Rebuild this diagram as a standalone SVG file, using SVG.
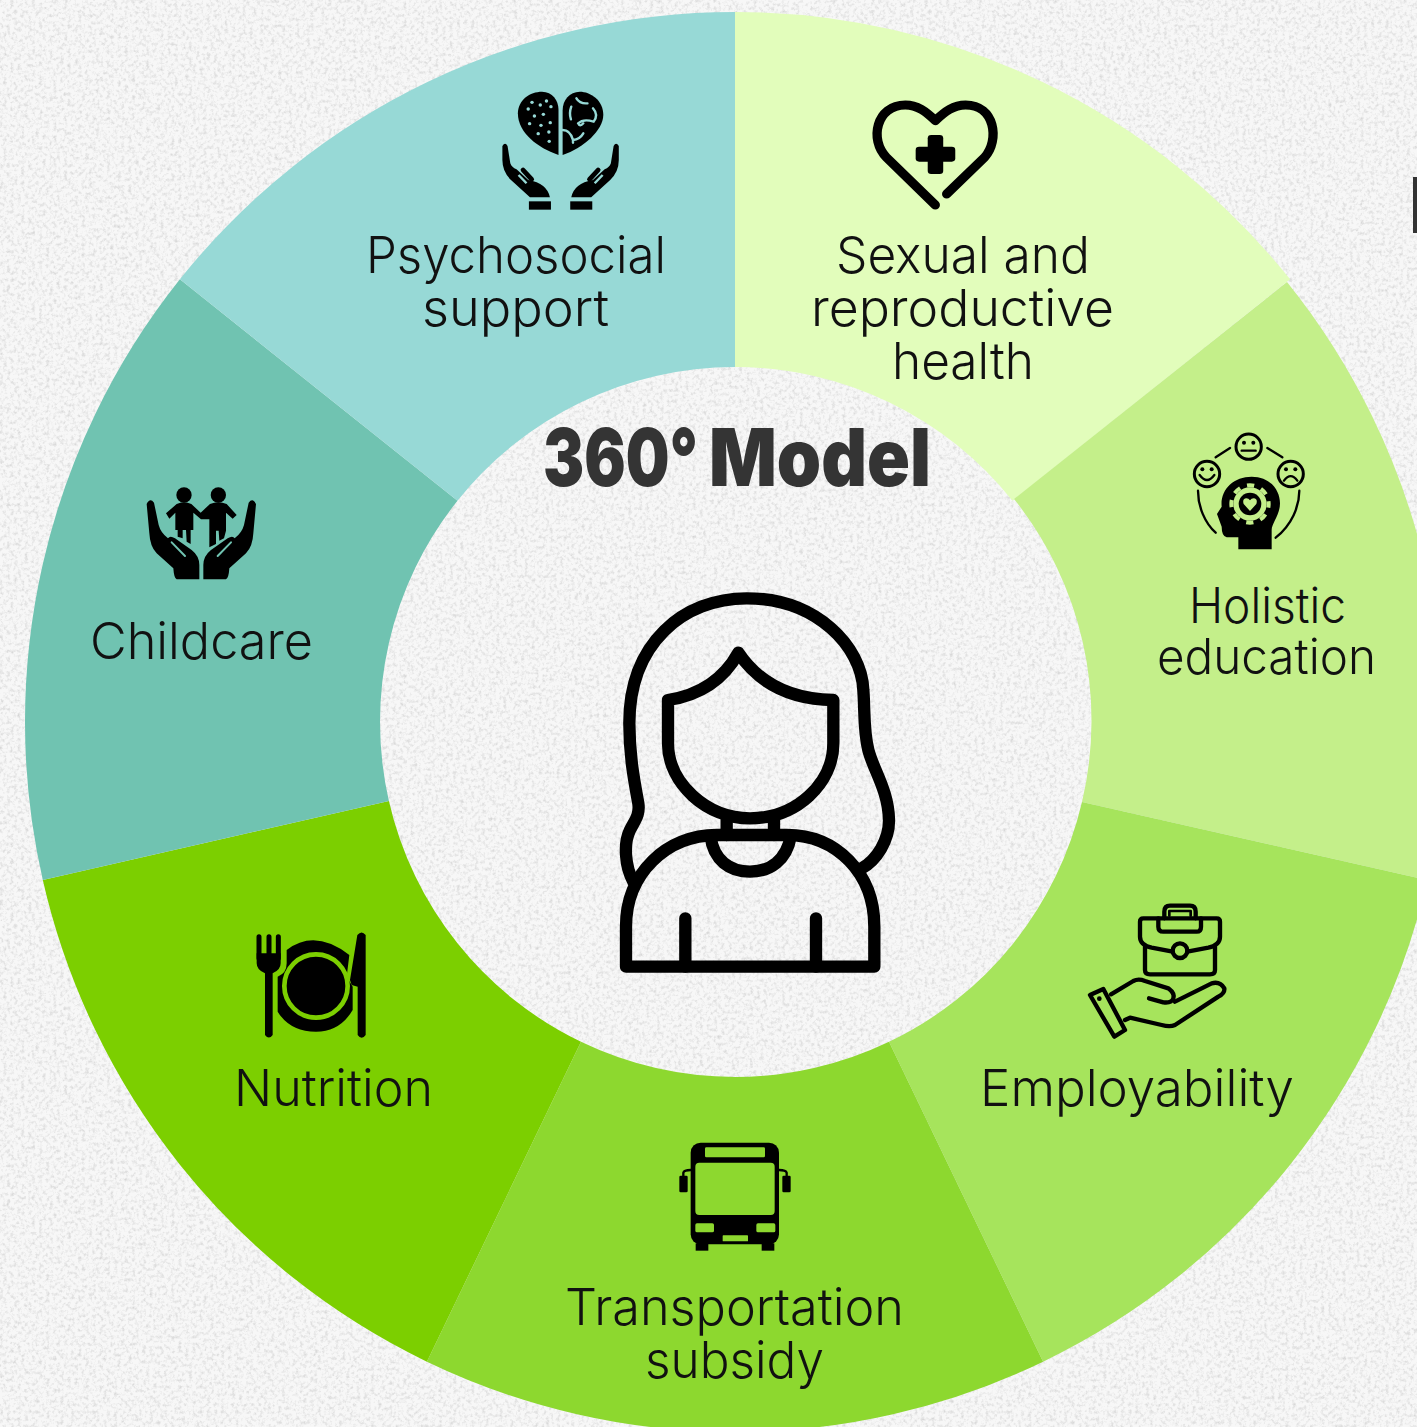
<svg xmlns="http://www.w3.org/2000/svg" width="1417" height="1427" viewBox="0 0 1417 1427">
<defs>
<filter id="paper" x="0" y="0" width="100%" height="100%"><feTurbulence type="fractalNoise" baseFrequency="0.28" numOctaves="4" seed="4"/><feColorMatrix values="0 0 0 0 .4 0 0 0 0 .4 0 0 0 0 .4 .9 0 0 0 -.41"/></filter>
</defs>
<style>
.lbl{font-family:"Inter","Liberation Sans",sans-serif;font-weight:300;font-size:51px;fill:#111;text-anchor:start}
.ln{fill:none;stroke:#000;stroke-linecap:round;stroke-linejoin:round}
</style>
<rect id="background" width="1417" height="1427" fill="#f7f7f7"/>
<rect width="1417" height="1427" filter="url(#paper)"/>
<g id="connectors"/>
<g id="seg-sexual"><path d="M735 12A710 710 0 0 1 1290.1 279.3L1012.5 500.7A355 355 0 0 0 735 367Z" fill="#e2fdbb"/></g>
<g id="seg-holistic"><path d="M1287 282A710 710 0 0 1 1427.2 880L1082 802A355 355 0 0 0 1014 499Z" fill="#c4ef8a"/></g>
<g id="seg-employ"><path d="M1427.2 880A710 710 0 0 1 1043.1 1361.7L889 1041.8A355 355 0 0 0 1082 802Z" fill="#a6e45c"/></g>
<g id="seg-transport"><path d="M1043.1 1361.7A710 710 0 0 1 426.9 1361.7L581 1041.8A355 355 0 0 0 889 1041.8Z" fill="#8dd82f"/></g>
<g id="seg-nutrition"><path d="M426.9 1361.7A710 710 0 0 1 42.8 880L388.9 801A355 355 0 0 0 581 1041.8Z" fill="#7ccf00"/></g>
<g id="seg-childcare"><path d="M42.8 880A710 710 0 0 1 179.9 279.3L457.5 500.7A355 355 0 0 0 388.9 801Z" fill="#70c3b1"/></g>
<g id="seg-psycho"><path d="M179.9 279.3A710 710 0 0 1 735 12V367A355 355 0 0 0 457.5 500.7Z" fill="#97d9d6"/></g>
<rect x="1413" y="177" width="4" height="56" fill="#333"/>

<g id="node-center">
<text font-family="Inter,'Liberation Sans',sans-serif" font-weight="900" font-size="80" fill="#343434" y="486"><tspan x="543" textLength="155" lengthAdjust="spacingAndGlyphs">360°</tspan> <tspan x="709" textLength="222" lengthAdjust="spacingAndGlyphs">Model</tspan></text>
<g transform="translate(600 580) scale(.33333)">
<path class="ln" stroke-width="37" d="M100 905C75 860 70 790 90 750C105 720 120 705 115 670C100 590 88 520 88 430C88 190 250 55 440 55C650 55 785 200 790 330C795 400 790 450 805 510C820 570 865 630 867 720C868 780 830 840 785 865"/>
<path class="ln" stroke-width="37" d="M204 360C300 345 370 300 415 218C470 300 560 358 700 360V490C700 610 590 715 450 715C320 715 204 610 204 490Z"/>
<path class="ln" stroke-width="37" d="M380 720V765M522 720V765"/>
<path class="ln" stroke-width="37" d="M78 1160V1040C78 880 200 765 350 765H560C710 765 823 880 823 1040V1160Z"/>
<path class="ln" stroke-width="37" d="M332 770C340 840 390 875 450 875C510 875 560 840 572 770"/>
<path class="ln" stroke-width="37" d="M256 1015V1160M648 1015V1160"/>
</g>
</g>

<g id="node-psychosocial">
<g transform="translate(480 80) scale(.3444 .33333)">
<path d="M228 225C170 205 110 160 110 100C110 60 145 35 180 35C210 35 228 60 228 90Z"/>
<path d="M240 225C300 205 358 150 358 105C358 60 320 35 290 35C260 35 240 60 240 90Z"/>
<g fill="#97d9d6"><circle cx="151" cy="67" r="5"/><circle cx="175" cy="75" r="5"/><circle cx="193" cy="63" r="5"/><circle cx="206" cy="80" r="5"/><circle cx="140" cy="87" r="5"/><circle cx="158" cy="108" r="5"/><circle cx="184" cy="103" r="5"/><circle cx="144" cy="131" r="5"/><circle cx="177" cy="136" r="5"/><circle cx="204" cy="128" r="5"/><circle cx="169" cy="161" r="5"/><circle cx="200" cy="156" r="5"/><circle cx="201" cy="184" r="5"/></g>
<path d="M280 55Q290 72 312 70M265 80Q258 100 264 118M328 85Q345 105 330 125Q300 115 285 130Q290 142 300 130M240 150Q262 150 270 180Q290 178 300 160M270 180V188" fill="none" stroke="#97d9d6" stroke-width="7" stroke-linecap="round"/>
<g id="hand-l"><path d="M65 198Q73 185 80 198L88 250Q92 262 106 268L140 300Q195 310 203 352H145L90 300Q65 275 65 240Z"/><path d="M112 285L135 310" stroke="#97d9d6" stroke-width="7"/><path d="M125 270L150 298" stroke="#000" stroke-width="14" stroke-linecap="round"/><rect x="142" y="364" width="64" height="25"/></g>
<use href="#hand-l" transform="translate(468 0) scale(-1 1)"/>
</g>
<text class="lbl" x="366" y="273" textLength="300" lengthAdjust="spacingAndGlyphs">Psychosocial</text>
<text class="lbl" x="422" y="326" textLength="187" lengthAdjust="spacingAndGlyphs">support</text>
</g>

<g id="node-sexual">
<g transform="translate(480 80) scale(.3444 .33333)">
<path class="ln" stroke-width="27" d="M1322 375L1180 232C1130 180 1150 75 1235 75C1270 75 1295 95 1322 122C1350 95 1375 75 1410 75C1495 75 1510 180 1465 232L1355 342"/>
<rect x="1300" y="165" width="45" height="117" rx="10"/><rect x="1265" y="200" width="115" height="45" rx="10"/>
</g>
<text class="lbl" x="836" y="273" textLength="254" lengthAdjust="spacingAndGlyphs">Sexual and</text>
<text class="lbl" x="811" y="326" textLength="303" lengthAdjust="spacingAndGlyphs">reproductive</text>
<text class="lbl" x="892" y="379" textLength="142" lengthAdjust="spacingAndGlyphs">health</text>
</g>

<g id="node-holistic">
<g transform="translate(1170 160) scale(.33333)">
<g fill="none" stroke="#000" stroke-width="9"><circle cx="236" cy="860" r="38"/><circle cx="111" cy="942" r="38"/><circle cx="362" cy="942" r="38"/></g>
<g><circle cx="222" cy="848" r="6"/><circle cx="250" cy="848" r="6"/><circle cx="97" cy="928" r="6"/><circle cx="125" cy="928" r="6"/><circle cx="348" cy="928" r="6"/><circle cx="376" cy="928" r="6"/></g>
<path class="ln" stroke-width="7" d="M215 872H257M89 945Q111 975 133 945M342 962Q362 935 382 962"/>
<path class="ln" stroke-width="7" d="M137 892L180 864M292 864L337 892M84 992C84 1040 105 1090 137 1118M388 992C388 1040 365 1095 317 1133"/>
<path d="M205 1168V1132H170Q155 1128 155 1100L141 1062L155 1040C150 990 190 950 245 950C300 950 330 990 330 1030C330 1065 305 1090 305 1110V1168Z"/>
<circle cx="240" cy="1032" r="50" fill="#c4ef8a"/>
<circle cx="240" cy="1032" r="56" fill="none" stroke="#c4ef8a" stroke-width="12" stroke-dasharray="22 22" stroke-dashoffset="11"/>
<circle cx="240" cy="1032" r="34"/>
<path d="M240 1053L221 1032Q216 1016 229 1015Q236 1015 240 1021Q244 1015 251 1015Q264 1016 259 1032Z" fill="#c4ef8a"/>
</g>
<text class="lbl" x="1189" y="623" style="font-size:49px" textLength="157" lengthAdjust="spacingAndGlyphs">Holistic</text>
<text class="lbl" x="1157" y="674" style="font-size:49px" textLength="219" lengthAdjust="spacingAndGlyphs">education</text>
</g>

<g id="node-employability">
<g transform="translate(1075 895) scale(.33333)">
<path class="ln" stroke-width="13" d="M337 170L400 158Q435 150 435 125V80Q435 70 425 70H205Q195 70 195 80V125Q195 150 230 158L293 170"/>
<path class="ln" stroke-width="13" d="M210 155V225Q210 238 225 238H405Q420 238 420 225V155"/>
<circle class="ln" stroke-width="13" cx="315" cy="167" r="22"/>
<path class="ln" stroke-width="13" d="M250 70V95Q250 110 265 110H365Q378 110 378 95V70"/>
<path class="ln" stroke-width="13" d="M268 70V50Q268 32 285 32H345Q362 32 362 50V70"/>
<path class="ln" stroke-width="8" d="M283 62V48H347V62"/>
<path class="ln" stroke-width="13" d="M108 298L175 258Q190 250 210 258L280 280Q300 295 295 310Q290 325 265 322L222 310"/>
<path class="ln" stroke-width="13" d="M300 320L410 265Q435 258 448 280Q450 295 430 305L300 390Q285 397 260 390L165 368L150 375"/>
<path class="ln" stroke-width="13" d="M45 300L85 282L150 405L118 425Z"/>
<circle cx="73" cy="311" r="7"/>
</g>
<text class="lbl" x="980" y="1106" textLength="314" lengthAdjust="spacingAndGlyphs">Employability</text>
</g>

<g id="node-transport">
<g transform="translate(660 1130) scale(.33333)">
<rect x="92" y="38" width="265" height="305" rx="30"/>
<rect x="107" y="340" width="38" height="22"/><rect x="305" y="340" width="38" height="22"/>
<g fill="#8dd82f"><rect x="135" y="52" width="180" height="30" rx="4"/><rect x="106" y="98" width="238" height="157" rx="12"/><rect x="106" y="280" width="56" height="27" rx="5"/><rect x="289" y="280" width="57" height="27" rx="5"/><rect x="188" y="316" width="76" height="18" rx="2"/></g>
<rect x="58" y="137" width="25" height="50" rx="4"/><rect x="367" y="137" width="25" height="50" rx="4"/>
<path class="ln" stroke-width="7" d="M70 137V128Q72 120 92 120M380 137V128Q378 120 357 120"/>
</g>
<text class="lbl" x="565" y="1325" textLength="339" lengthAdjust="spacingAndGlyphs">Transportation</text>
<text class="lbl" x="645" y="1378" textLength="179" lengthAdjust="spacingAndGlyphs">subsidy</text>
</g>

<g id="node-nutrition">
<g transform="translate(240 920) scale(.33333)">
<path class="ln" stroke-width="15" d="M57 50V115M87 50V115M115 50V115"/>
<path d="M50 100H122V130Q122 150 98 160V345Q87 360 75 345V160Q50 150 50 130Z"/>
<path d="M140 90Q225 25 328 105L320 170L338 200V270Q300 335 228 335Q150 335 113 275V170Q140 160 140 130Z"/>
<circle cx="228" cy="198" r="95" stroke="#7ccf00" stroke-width="14"/>
<path d="M352 45Q365 30 377 45V345Q365 362 353 345V200L335 195L330 180Z"/>
</g>
<text class="lbl" x="234" y="1106" textLength="199" lengthAdjust="spacingAndGlyphs">Nutrition</text>
</g>

<g id="node-childcare">
<g transform="translate(130 470) scale(.33333)">
<circle cx="162" cy="75" r="23"/><circle cx="265" cy="75" r="23"/>
<path d="M108 130L140 102Q162 92 184 102L212 128L240 102Q265 92 290 102L320 135L308 146L288 128V182L282 205L268 212L266 182H258V222L238 232V148H213L190 128V180H182V222L170 215L168 180H158V205L143 200V180H136V128L118 146Z"/>
<g id="cc-hand"><path d="M50 102Q60 82 72 98L86 165Q92 188 114 205Q120 195 135 205L185 240Q208 258 208 285V328H140Q132 325 130 295L80 250Q60 230 58 190Z"/><path d="M125 217L165 258" stroke="#70c3b1" stroke-width="6" stroke-linecap="round"/></g>
<use href="#cc-hand" transform="translate(428 0) scale(-1 1)"/>
</g>
<text class="lbl" x="90" y="659" textLength="223" lengthAdjust="spacingAndGlyphs">Childcare</text>
</g>
</svg>
